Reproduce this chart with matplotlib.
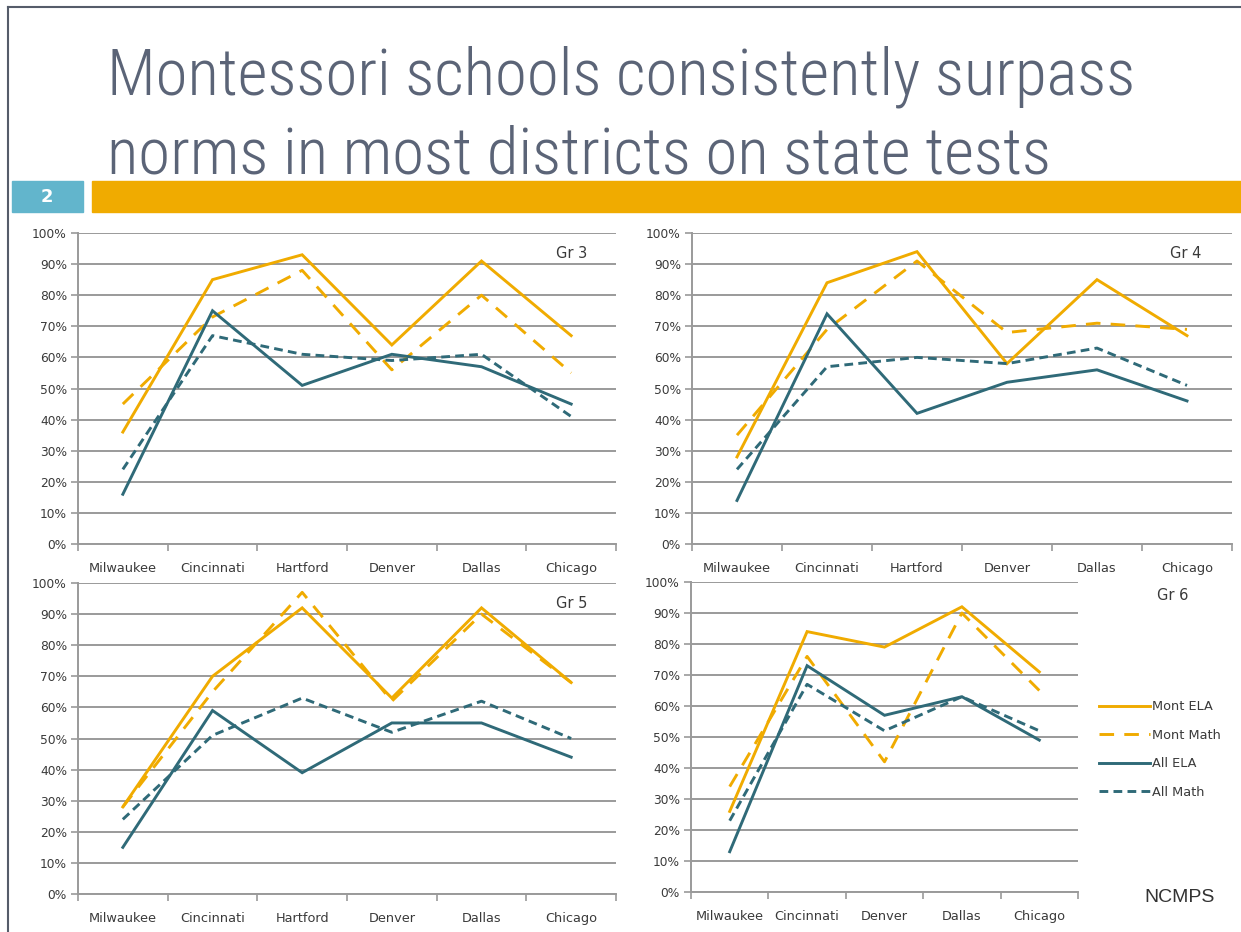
import matplotlib
matplotlib.use("Agg")
import matplotlib.pyplot as plt
from matplotlib.patches import Rectangle
from matplotlib.lines import Line2D
from matplotlib import font_manager

W, H = 1241, 932

# data
cities_a = ["Milwaukee", "Cincinnati", "Hartford", "Denver", "Dallas", "Chicago"]
cities_b = ["Milwaukee", "Cincinnati", "Denver", "Dallas", "Chicago"]

gr3_mont_ela = [36, 85, 93, 64, 91, 67]
gr3_mont_math = [45, 73, 88, 56, 80, 55]
gr3_all_ela = [16, 75, 51, 61, 57, 45]
gr3_all_math = [24, 67, 61, 59, 61, 41]

gr4_mont_ela = [28, 84, 94, 58, 85, 67]
gr4_mont_math = [35, 69, 91, 68, 71, 69]
gr4_all_ela = [14, 74, 42, 52, 56, 46]
gr4_all_math = [24, 57, 60, 58, 63, 51]

gr5_mont_ela = [28, 70, 92, 63, 92, 68]
gr5_mont_math = [28, 65, 97, 62, 90, 68]
gr5_all_ela = [15, 59, 39, 55, 55, 44]
gr5_all_math = [24, 51, 63, 52, 62, 50]

gr6_mont_ela = [26, 84, 79, 92, 71]
gr6_mont_math = [34, 76, 42, 90, 65]
gr6_all_ela = [13, 73, 57, 63, 49]
gr6_all_math = [23, 67, 52, 63, 52]

y_ticks = [0, 10, 20, 30, 40, 50, 60, 70, 80, 90, 100]
y_labels = ["%d%%" % v for v in y_ticks]

title_1 = "Montessori schools consistently surpass"
title_2 = "norms in most districts on state tests"

ORANGE = "#f0ab00"
TEAL = "#2f6a78"
GRID = "#9a9a9a"
TXT = "#3a3a3a"
TITLE = "#5b6477"

fig = plt.figure(figsize=(W / 100, H / 100), dpi=100)
fig.patch.set_facecolor("white")


def px_axes(x0, y0, x1, y1):
    return fig.add_axes([x0 / W, 1 - y1 / H, (x1 - x0) / W, (y1 - y0) / H])


def panel(ax, cats, me, mm, ae, am):
    x = list(range(len(cats)))
    ax.plot(x, me, color=ORANGE, lw=2.1, solid_joinstyle="miter", label="Mont ELA")
    ax.plot(x, mm, color=ORANGE, lw=2.1, dashes=(5, 3.5), label="Mont Math")
    ax.plot(x, ae, color=TEAL, lw=2.1, solid_joinstyle="miter", label="All ELA")
    ax.plot(x, am, color=TEAL, lw=2.1, dashes=(3, 1.8), label="All Math")
    ax.set_xlim(-0.5, len(cats) - 0.5)
    ax.set_ylim(0, 100)
    ax.set_yticks(y_ticks)
    ax.set_yticklabels(y_labels)
    ax.yaxis.grid(True, color=GRID, lw=1.4)
    ax.set_axisbelow(True)
    ax.set_xticks(x)
    ax.set_xticklabels(cats)
    ax.set_xticks([i - 0.5 for i in range(len(cats) + 1)], minor=True)
    ax.tick_params(axis="x", which="major", length=0, pad=13, labelsize=9.3, labelcolor=TXT)
    ax.tick_params(axis="x", which="minor", length=5, width=1.2, color=GRID)
    ax.tick_params(axis="y", length=5, width=1.2, color=GRID, pad=3, labelsize=8.8, labelcolor=TXT)
    for s in ["top", "right"]:
        ax.spines[s].set_visible(False)
    for s in ["left", "bottom"]:
        ax.spines[s].set_color(GRID)
        ax.spines[s].set_linewidth(1.4)
    ax.patch.set_alpha(0)


ax3 = px_axes(78, 233, 616, 544)
panel(ax3, cities_a, gr3_mont_ela, gr3_mont_math, gr3_all_ela, gr3_all_math)
ax4 = px_axes(692, 233, 1232, 544)
panel(ax4, cities_a, gr4_mont_ela, gr4_mont_math, gr4_all_ela, gr4_all_math)
ax5 = px_axes(78, 583, 616, 894)
panel(ax5, cities_a, gr5_mont_ela, gr5_mont_math, gr5_all_ela, gr5_all_math)
ax6 = px_axes(691, 582, 1078, 892)
panel(ax6, cities_b, gr6_mont_ela, gr6_mont_math, gr6_all_ela, gr6_all_math)

ax6.legend(loc="upper left", bbox_to_anchor=(1093 / W, 1 - 694 / H),
           bbox_transform=fig.transFigure, frameon=False, fontsize=9.3,
           handlelength=3.9, handletextpad=0.2, labelspacing=1.2,
           borderpad=0, labelcolor=TXT)

for t, xx, yy in [("Gr 3", 572, 253), ("Gr 4", 1186, 253), ("Gr 5", 572, 603), ("Gr 6", 1173, 595)]:
    fig.text(xx / W, 1 - yy / H, t, fontsize=10.5, color=TXT, ha="center", va="center")

# choose the installed face whose cap height is closest to the slide's
# (~50 px) once the first title line is sized to ~1028 px wide
renderer = fig.canvas.get_renderer()
best = None
for f in font_manager.fontManager.ttflist:
    if f.style != "normal" or not (300 <= int(f.weight) <= 400):
        continue
    if not any(k in f.name for k in ["DejaVu", "Liberation", "Noto Sans", "Roboto", "Open Sans", "Lato", "Inter"]):
        continue
    if "Mono" in f.name or "CJK" in f.name or "Serif" in f.name:
        continue
    fp = font_manager.FontProperties(fname=f.fname, size=40)
    w = renderer.get_text_width_height_descent(title_1, fp, ismath=False)[0]
    hm = renderer.get_text_width_height_descent("M", fp, ismath=False)[1]
    scale = 1028.0 / w
    err = abs(hm * scale - 50)
    if best is None or err < best[0]:
        best = (err, f.fname, 40 * scale)
title_font = font_manager.FontProperties(fname=best[1])
title_size = best[2]

# slide decoration
bg = fig.add_axes([0, 0, 1, 1], zorder=-1)
bg.set_xlim(0, W)
bg.set_ylim(H, 0)
bg.axis("off")
bg.add_patch(Rectangle((12, 181), 71, 31, color="#62b5cc"))
bg.add_patch(Rectangle((92, 181), W - 92, 31, color="#f0ab00"))
bg.text(47, 197, "2", color="white", fontsize=13, fontweight="bold", ha="center", va="center")
bg.add_line(Line2D([8, W], [7, 7], color="#555c6a", lw=1.5))
bg.add_line(Line2D([8, 8], [7, H], color="#555c6a", lw=1.5))

bg.text(107, 94, title_1, fontproperties=title_font, fontsize=title_size, color=TITLE,
        va="baseline", ha="left")
bg.text(107, 173, title_2, fontproperties=title_font, fontsize=title_size, color=TITLE,
        va="baseline", ha="left")

fig.text(1180 / W, 1 - 897 / H, "NCMPS", fontsize=14, color="#333333",
         ha="center", va="center", family=["Liberation Sans", "DejaVu Sans"])

fig.savefig("out.png", dpi=100)
